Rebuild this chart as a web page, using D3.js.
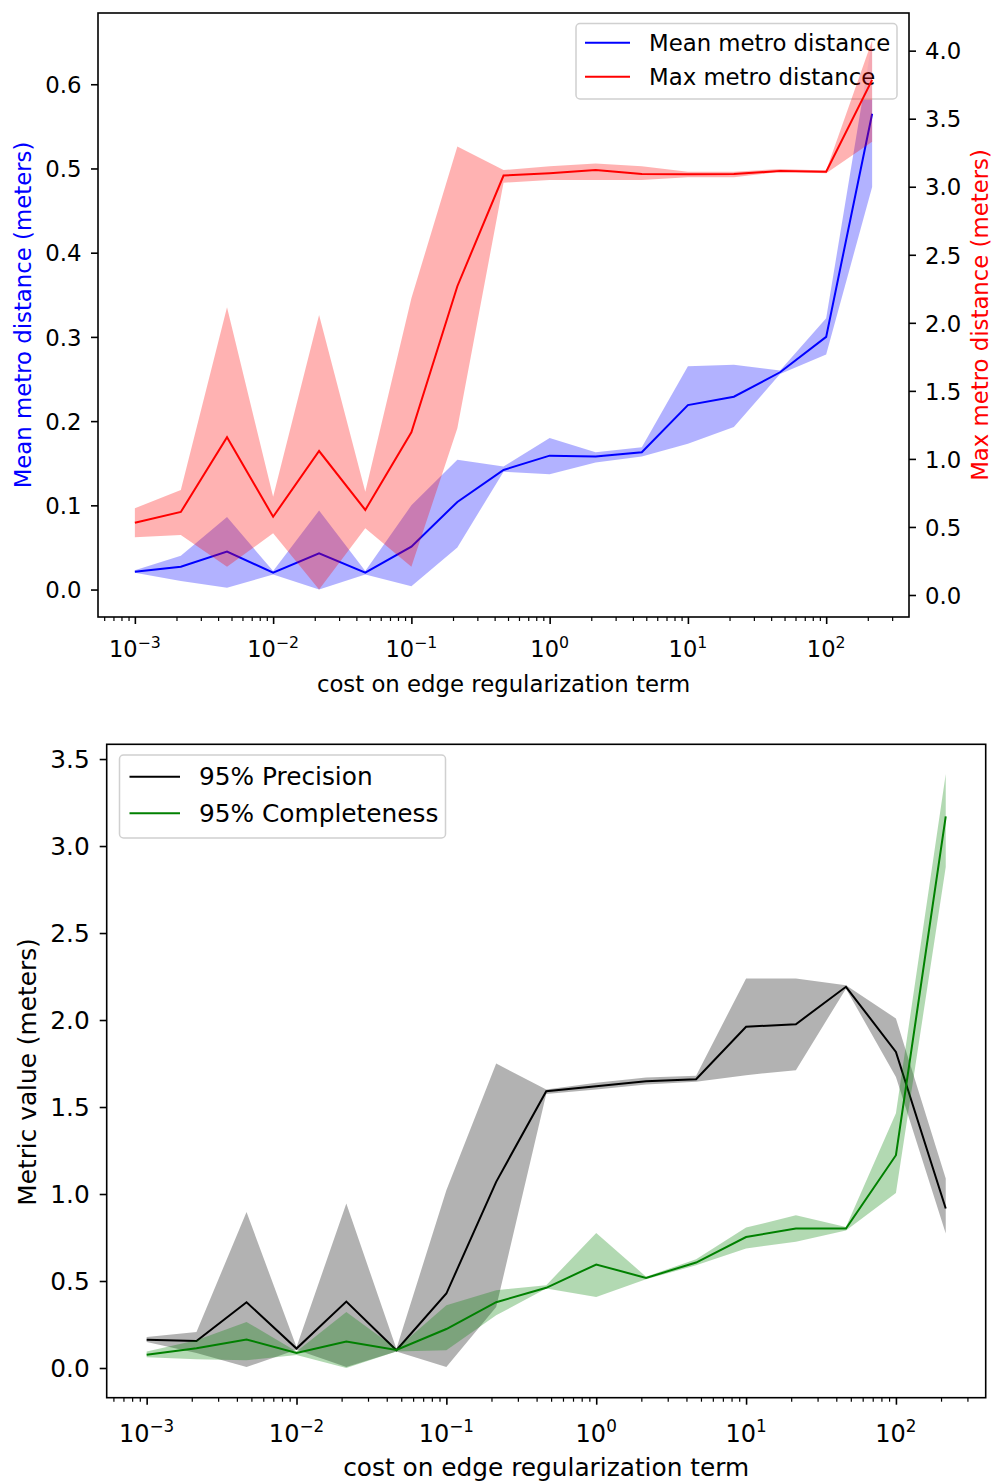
<!DOCTYPE html>
<html><head><meta charset="utf-8">
<script src="https://cdn.jsdelivr.net/npm/d3@7"></script>
<style>
body{margin:0;background:#fff}
text{font-family:"DejaVu Sans",sans-serif;fill:#000}
</style></head>
<body>
<script>
// ---------------- data ----------------
const costs = [0.001, 0.00215, 0.00464, 0.01, 0.0215, 0.0464, 0.1, 0.215, 0.464, 1, 2.15, 4.64, 10, 21.5, 46.4, 100, 215];

const meanDist = [0.021, 0.027, 0.045, 0.020, 0.043, 0.020, 0.051, 0.104, 0.142, 0.159, 0.158, 0.163, 0.219, 0.229, 0.258, 0.300, 0.565];
const meanLow  = [0.020, 0.010, 0.002, 0.018, 0.000, 0.018, 0.004, 0.050, 0.140, 0.137, 0.151, 0.158, 0.173, 0.193, 0.256, 0.279, 0.478];
const meanHigh = [0.023, 0.040, 0.086, 0.022, 0.094, 0.022, 0.100, 0.154, 0.146, 0.180, 0.163, 0.169, 0.265, 0.267, 0.260, 0.322, 0.652];

const maxDist = [0.531, 0.610, 1.159, 0.575, 1.058, 0.625, 1.196, 2.269, 3.082, 3.099, 3.123, 3.094, 3.092, 3.094, 3.116, 3.111, 3.785];
const maxLow  = [0.424, 0.441, 0.208, 0.453, 0.040, 0.490, 0.208, 1.225, 3.030, 3.050, 3.050, 3.050, 3.070, 3.070, 3.110, 3.100, 3.330];
const maxHigh = [0.637, 0.772, 2.114, 0.722, 2.058, 0.759, 2.180, 3.295, 3.123, 3.150, 3.170, 3.150, 3.110, 3.110, 3.130, 3.120, 4.075];

const precision     = [0.163, 0.155, 0.378, 0.112, 0.382, 0.102, 0.428, 1.070, 1.591, 1.620, 1.648, 1.660, 1.961, 1.976, 2.191, 1.817, 0.917];
const precisionLow  = [0.150, 0.086, 0.006, 0.105, 0.006, 0.095, 0.006, 0.350, 1.575, 1.600, 1.630, 1.645, 1.683, 1.712, 2.180, 1.673, 0.773];
const precisionHigh = [0.178, 0.207, 0.897, 0.120, 0.945, 0.110, 1.022, 1.750, 1.600, 1.640, 1.670, 1.680, 2.239, 2.239, 2.200, 2.009, 1.089];

const completeness     = [0.076, 0.114, 0.164, 0.086, 0.152, 0.104, 0.224, 0.378, 0.461, 0.595, 0.518, 0.606, 0.753, 0.802, 0.802, 1.223, 3.170];
const completenessLow  = [0.062, 0.050, 0.044, 0.075, 0.000, 0.095, 0.102, 0.303, 0.457, 0.408, 0.510, 0.590, 0.687, 0.725, 0.790, 1.006, 2.880];
const completenessHigh = [0.095, 0.160, 0.265, 0.095, 0.322, 0.110, 0.360, 0.447, 0.476, 0.776, 0.525, 0.625, 0.807, 0.878, 0.810, 1.464, 3.414];

const xMajorTicks = [1e-3, 1e-2, 1e-1, 1e0, 1e1, 1e2];
const xMajorExp = ["−3", "−2", "−1", "0", "1", "2"];
const topLeftTicks = [0.0, 0.1, 0.2, 0.3, 0.4, 0.5, 0.6];
const topRightTicks = [0.0, 0.5, 1.0, 1.5, 2.0, 2.5, 3.0, 3.5, 4.0];
const bottomTicks = [0.0, 0.5, 1.0, 1.5, 2.0, 2.5, 3.0, 3.5];

const xLabel = "cost on edge regularization term";
const topLeftLabel = "Mean metro distance (meters)";
const topRightLabel = "Max metro distance (meters)";
const bottomYLabel = "Metric value (meters)";
const topLegend = ["Mean metro distance", "Max metro distance"];
const bottomLegend = ["95% Precision", "95% Completeness"];

// ---------------- helpers ----------------
const W = 992, H = 1484;
const svg = d3.select("body").append("svg").attr("width", W).attr("height", H);

function logDomain() {
  const lo = Math.log10(d3.min(costs)), hi = Math.log10(d3.max(costs));
  const p = (hi - lo) * 0.05;
  return [Math.pow(10, lo - p), Math.pow(10, hi + p)];
}
function padDomain(arrs) {
  const mn = d3.min(arrs, a => d3.min(a)), mx = d3.max(arrs, a => d3.max(a));
  const p = (mx - mn) * 0.05;
  return [mn - p, mx + p];
}

function drawXAxis(x, y0, labelBaseline, titleBaseline, cx, fsTick, fsTitle) {
  const g = svg.append("g");
  const ax = g.append("g").attr("transform", `translate(0,${y0})`)
    .call(d3.axisBottom(x).tickValues(xMajorTicks).tickSize(7).tickFormat(""));
  ax.select(".domain").remove();
  ax.selectAll("line").attr("stroke", "#000").attr("stroke-width", 1.6);
  const dom = x.domain();
  const minors = [];
  for (let k = -4; k <= 3; k++) for (let m = 2; m <= 9; m++) {
    const v = m * Math.pow(10, k);
    if (v >= dom[0] && v <= dom[1]) minors.push(v);
  }
  const mx = g.append("g").attr("transform", `translate(0,${y0})`)
    .call(d3.axisBottom(x).tickValues(minors).tickSize(4).tickFormat(""));
  mx.select(".domain").remove();
  mx.selectAll("line").attr("stroke", "#000").attr("stroke-width", 1.2);
  xMajorTicks.forEach((v, i) => {
    const t = g.append("text").attr("x", x(v)).attr("y", labelBaseline)
      .attr("text-anchor", "middle").attr("font-size", fsTick);
    t.append("tspan").text("10");
    t.append("tspan").attr("dy", -fsTick * 0.41).attr("font-size", fsTick * 0.7).text(xMajorExp[i]);
  });
  g.append("text").attr("x", cx).attr("y", titleBaseline).attr("text-anchor", "middle")
    .attr("font-size", fsTitle).text(xLabel);
}

function drawYAxis(y, x0, ticks, right, fs, pad) {
  const axis = right ? d3.axisRight(y) : d3.axisLeft(y);
  const g = svg.append("g").attr("transform", `translate(${x0},0)`)
    .call(axis.tickValues(ticks).tickSize(7).tickPadding(pad).tickFormat(d3.format(".1f")));
  g.select(".domain").remove();
  g.selectAll("line").attr("stroke", "#000").attr("stroke-width", 1.6);
  g.selectAll("text").attr("font-size", fs).attr("font-family", "DejaVu Sans").attr("fill", "#000")
    .attr("dy", "0.36em");
}

function yTitle(text, cx, cy, color, fs) {
  svg.append("text").attr("transform", `translate(${cx},${cy}) rotate(-90)`)
    .attr("text-anchor", "middle").attr("dominant-baseline", "central")
    .attr("font-size", fs).attr("fill", color).style("fill", color).text(text);
}

function band(x, y, lo, hi, color) {
  const data = costs.map((c, i) => ({c, lo: lo[i], hi: hi[i]}));
  svg.append("path").datum(data)
    .attr("d", d3.area().x(d => x(d.c)).y0(d => y(d.lo)).y1(d => y(d.hi)))
    .attr("fill", color).attr("fill-opacity", 0.3).attr("stroke", "none");
}
function line(x, y, vals, color) {
  const data = costs.map((c, i) => ({c, v: vals[i]}));
  svg.append("path").datum(data)
    .attr("d", d3.line().x(d => x(d.c)).y(d => y(d.v)))
    .attr("fill", "none").attr("stroke", color).attr("stroke-width", 2);
}
function legend(x0, y0, w, h, items, colors, rowY, lineX0, lineX1, textX, fs) {
  svg.append("rect").attr("x", x0).attr("y", y0).attr("width", w).attr("height", h)
    .attr("rx", 4).attr("fill", "#fff").attr("fill-opacity", 0.8)
    .attr("stroke", "#d0d0d0").attr("stroke-width", 1.5);
  items.forEach((t, i) => {
    svg.append("line").attr("x1", lineX0).attr("x2", lineX1).attr("y1", rowY[i]).attr("y2", rowY[i])
      .attr("stroke", colors[i]).attr("stroke-width", 2);
    svg.append("text").attr("x", textX).attr("y", rowY[i]).attr("dominant-baseline", "central")
      .attr("font-size", fs).text(t);
  });
}

// ---------------- top chart ----------------
{
  const FS = 22.8;
  const L = 98, R = 909, T = 13, B = 617;
  const x = d3.scaleLog().domain(logDomain()).range([L, R]);
  const yL = d3.scaleLinear().domain(padDomain([meanDist, meanLow, meanHigh])).range([B, T]);
  const yR = d3.scaleLinear().domain(padDomain([maxDist, maxLow, maxHigh])).range([B, T]);

  band(x, yL, meanLow, meanHigh, "blue");
  line(x, yL, meanDist, "blue");
  legend(576, 23.5, 321, 75.5, topLegend, ["blue", "red"], [42.7, 76.7], 585, 630, 649, FS);
  band(x, yR, maxLow, maxHigh, "red");
  line(x, yR, maxDist, "red");

  svg.append("rect").attr("x", L).attr("y", T).attr("width", R - L).attr("height", B - T)
    .attr("fill", "none").attr("stroke", "#000").attr("stroke-width", 1.6);
  drawXAxis(x, B, 657, 692, (L + R) / 2, 22.5, FS);
  drawYAxis(yL, L, topLeftTicks, false, FS, 9.5);
  drawYAxis(yR, R, topRightTicks, true, FS, 9);
  yTitle(topLeftLabel, 23, (T + B) / 2, "blue", FS);
  yTitle(topRightLabel, 980, (T + B) / 2, "red", FS);
}

// ---------------- bottom chart ----------------
{
  const FS = 24.8;
  const L = 106.7, R = 985.7, T = 744.3, B = 1397.7;
  const x = d3.scaleLog().domain(logDomain()).range([L, R]);
  const y = d3.scaleLinear().domain(padDomain([precision, precisionLow, precisionHigh, completeness, completenessLow, completenessHigh])).range([B, T]);

  band(x, y, precisionLow, precisionHigh, "black");
  line(x, y, precision, "black");
  band(x, y, completenessLow, completenessHigh, "green");
  line(x, y, completeness, "green");

  svg.append("rect").attr("x", L).attr("y", T).attr("width", R - L).attr("height", B - T)
    .attr("fill", "none").attr("stroke", "#000").attr("stroke-width", 1.6);
  legend(119.5, 755, 326, 83, bottomLegend, ["black", "green"], [776.7, 813.3], 129.5, 180, 199, FS);
  drawXAxis(x, B, 1442, 1476, (L + R) / 2, 24, FS);
  drawYAxis(y, L, bottomTicks, false, FS, 10);
  yTitle(bottomYLabel, 27, 1072, "#000", FS);
}
</script>
</body></html>
